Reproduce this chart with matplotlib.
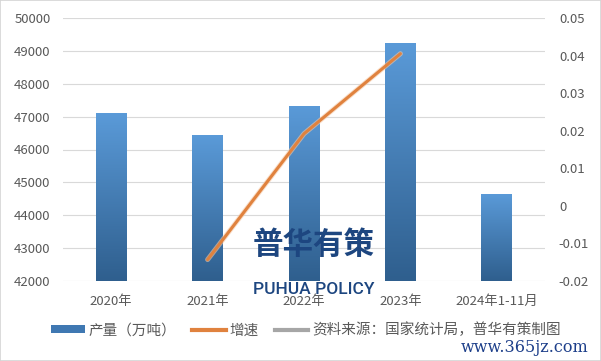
import numpy as np
import matplotlib.pyplot as plt
from matplotlib.lines import Line2D
from matplotlib.patches import Patch, Rectangle
from matplotlib.colors import LinearSegmentedColormap

plt.rcParams['font.family'] = ['Noto Sans CJK SC', 'DejaVu Sans']

# data
years = ['2020年', '2021年', '2022年', '2023年', '2024年1-11月']
output = [47100, 46440, 47330, 49240, 44650]      # 产量（万吨）
growth_years = ['2021年', '2022年', '2023年']
growth = [-0.0143, 0.0192, 0.0405]                 # 增速
left_ticks = [42000, 43000, 44000, 45000, 46000, 47000, 48000, 49000, 50000]
right_ticks = [-0.02, -0.01, 0, 0.01, 0.02, 0.03, 0.04, 0.05]
right_labels = ['-0.02', '-0.01', '0', '0.01', '0.02', '0.03', '0.04', '0.05']

tick_color = '#595959'
grid_color = '#d9d9d9'

fig = plt.figure(figsize=(6.01, 3.61), dpi=100)
fig.patches.append(Rectangle((0, 0), 1, 1, transform=fig.transFigure,
                             fill=False, edgecolor='#d4d4d4', linewidth=1.2))

ax = fig.add_axes([63 / 601, 1 - 281 / 361, 482 / 601, 263 / 361])
x = np.arange(len(years))

bars = ax.bar(x, output, width=0.32, color='#4a86c5', zorder=2)
# vertical gradient on each bar
cmap = LinearSegmentedColormap.from_list('bar', ['#5a9ad8', '#2f5f8e'])
grad = np.linspace(0, 1, 100).reshape(-1, 1)
for b in bars:
    bx = b.get_x()
    im = ax.imshow(grad, cmap=cmap, aspect='auto', origin='upper',
                   extent=[bx, bx + b.get_width(), 42000, b.get_height()],
                   zorder=2)
    im.set_clip_path(b)

ax.set_xlim(-0.5, len(years) - 0.5)
ax.set_ylim(42000, 50000)
ax.set_yticks(left_ticks)
ax.set_xticks(x)
ax.set_xticklabels(years)
ax.tick_params(axis='y', length=0, pad=9, labelsize=9.5, labelcolor=tick_color)
ax.tick_params(axis='x', length=0, pad=10, labelsize=9.5, labelcolor=tick_color)
ax.grid(axis='y', color=grid_color, linewidth=0.8, zorder=0)
ax.set_axisbelow(True)
for s in ax.spines.values():
    s.set_visible(False)

ax2 = ax.twinx()
gx = [years.index(g) for g in growth_years]
ax2.plot(gx, growth, color='#f5c9a6', linewidth=3.6, alpha=0.6, zorder=3,
         solid_capstyle='round')
ax2.plot(gx, growth, color='#e0823e', linewidth=2.2, zorder=4,
         solid_capstyle='round')
ax2.set_ylim(-0.02, 0.05)
ax2.set_yticks(right_ticks)
ax2.set_yticklabels(right_labels)
ax2.tick_params(axis='y', length=0, pad=10, labelsize=9.5, labelcolor=tick_color)
for s in ax2.spines.values():
    s.set_visible(False)

# watermark logo
fig.text(314 / 601, 1 - 245 / 361, '普华有策', ha='center', va='center',
         fontsize=22, fontweight='heavy', color='#1d4680', zorder=10)
fig.text(314 / 601, 1 - 289 / 361, 'PUHUA POLICY', ha='center', va='center',
         fontsize=12.5, color='#1d4680', family='Roboto', zorder=10,
         fontweight='medium')

handles = [
    Patch(facecolor='#3f78b2', edgecolor='none'),
    Line2D([], [], color='#e0823e', linewidth=3),
    Line2D([], [], color='#a6a6a6', linewidth=3),
]
labels = ['产量（万吨）', '增速', '资料来源：国家统计局，普华有策制图']
fig.legend(handles, labels, loc='center left', bbox_to_anchor=(38 / 601, 1 - 330 / 361),
           ncol=3, frameon=False, fontsize=10.5, labelcolor=tick_color,
           handlelength=2.3, handleheight=0.45, handletextpad=0.25,
           columnspacing=1.1)

fig.text(588 / 601, 1 - 347 / 361, 'www.365jz.com', ha='right', va='center',
         fontsize=11.5, color='#1d3f8a', family='DejaVu Serif', zorder=11)

fig.savefig('out.png', dpi=100)
